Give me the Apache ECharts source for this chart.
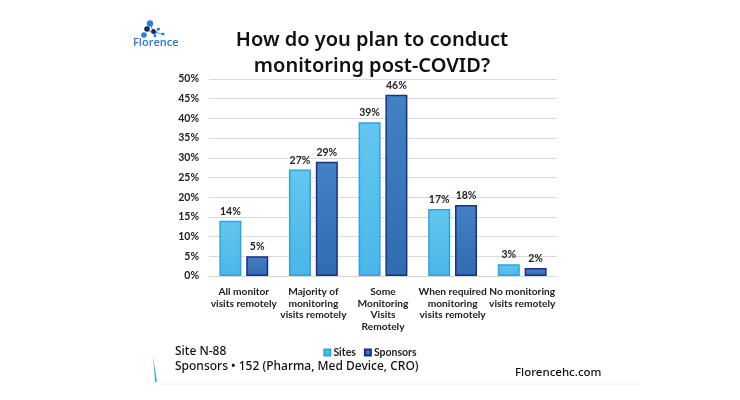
<!DOCTYPE html>
<html><head><meta charset="utf-8">
<script src="https://cdn.jsdelivr.net/npm/echarts@6/dist/echarts.min.js"></script>
<style>html,body{margin:0;padding:0;background:#fff}#c{width:740px;height:400px}</style>
</head><body><div id="c"></div>
<script>
var categories = ["All monitor\nvisits remotely", "Majority of\nmonitoring\nvisits remotely", "Some\nMonitoring\nVisits\nRemotely", "When required\nmonitoring\nvisits remotely", "No monitoring\nvisits remotely"];
var sites = [14, 27, 39, 17, 3];
var sponsors = [5, 29, 46, 18, 2];
var yTicks = [0, 5, 10, 15, 20, 25, 30, 35, 40, 45, 50];

var chart = echarts.init(document.getElementById('c'));
var lbl = {show: true, position: 'top', distance: 4, formatter: function(p){return p.value + '%';}, fontFamily: 'Lato', fontSize: 10.5, fontWeight: 700, color: '#222'};
chart.setOption({
  animation: false,
  title: {text: 'How do you plan to conduct\nmonitoring post-COVID?', left: 367, top: 22, textAlign: 'center',
    textStyle: {fontFamily: 'Noto Sans', fontSize: 20, fontWeight: 600, color: '#111', lineHeight: 26}},
  legend: {data: ['Sites', 'Sponsors'], left: 'center', top: 342, itemWidth: 6, itemHeight: 6, itemGap: 8,
    icon: 'rect', textStyle: {fontFamily: 'Lato', fontSize: 10.5, fontWeight: 700, color: '#222', padding: [0,0,0,-2]}},
  grid: {left: 209, right: 183, top: 79, bottom: 124},
  xAxis: {type: 'category', data: categories,
    axisLine: {lineStyle: {color: '#d6d6d6'}}, axisTick: {show: false},
    axisLabel: {interval: 0, fontFamily: 'Lato', fontSize: 10.2, fontWeight: 700, color: '#222', lineHeight: 11.5, margin: 10}},
  yAxis: {type: 'value', min: 0, max: 50, interval: 5,
    axisLabel: {formatter: function(v){return yTicks.indexOf(v) >= 0 ? v + '%' : '';}, fontFamily: 'Lato', fontSize: 10.5, fontWeight: 700, color: '#222', margin: 10},
    splitLine: {lineStyle: {color: '#d9d9d9'}}, axisLine: {show: false}, axisTick: {show: false}},
  series: [
    {name: 'Sites', type: 'bar', data: sites, barWidth: 22, barGap: '22%', label: lbl,
      itemStyle: {color: new echarts.graphic.LinearGradient(0,0,0,1,[{offset:0,color:'#62c7f0'},{offset:1,color:'#4ab6e8'}]), borderColor: '#2fa3dd', borderWidth: 1.5}},
    {name: 'Sponsors', type: 'bar', data: sponsors, barWidth: 22, label: lbl,
      itemStyle: {color: new echarts.graphic.LinearGradient(0,0,0,1,[{offset:0,color:'#4282c4'},{offset:1,color:'#2f6cb0'}]), borderColor: '#1c2f88', borderWidth: 1.5}}
  ],
  graphic: [
    {type: 'line', shape: {x1: 150, y1: 24, x2: 155, y2: 35}, style: {stroke: '#2a7de0', lineWidth: 0.8}},
    {type: 'line', shape: {x1: 153, y1: 32, x2: 163, y2: 34}, style: {stroke: '#2a7de0', lineWidth: 0.8}},
    {type: 'line', shape: {x1: 147, y1: 29, x2: 155, y2: 35}, style: {stroke: '#2a7de0', lineWidth: 0.8}},
    {type: 'line', shape: {x1: 158, y1: 29, x2: 155, y2: 35}, style: {stroke: '#2a7de0', lineWidth: 0.8}},
    {type: 'circle', shape: {cx: 150, cy: 23.5, r: 3.2}, style: {fill: '#2a7de0'}},
    {type: 'circle', shape: {cx: 147, cy: 29, r: 2.8}, style: {fill: '#1a2a5a'}},
    {type: 'circle', shape: {cx: 144, cy: 35, r: 2.8}, style: {fill: '#2a7de0'}},
    {type: 'circle', shape: {cx: 153.5, cy: 31.5, r: 2.4}, style: {fill: '#1a2a5a'}},
    {type: 'circle', shape: {cx: 158.5, cy: 29, r: 1.6}, style: {fill: '#2a7de0'}},
    {type: 'circle', shape: {cx: 163, cy: 34, r: 1.6}, style: {fill: '#2a7de0'}},
    {type: 'circle', shape: {cx: 155, cy: 36, r: 1.4}, style: {fill: '#2a7de0'}},
    {type: 'text', left: 133, top: 37, style: {text: 'Florence', fontFamily: 'Open Sans', fontSize: 11, fontWeight: 600, fill: '#2a7bd0'}},
    {type: 'polygon', shape: {points: [[153,356],[155,382],[157,382]]}, style: {fill: '#2fb0e8'}},
    {type: 'line', shape: {x1: 160, y1: 384, x2: 640, y2: 384}, style: {stroke: '#f0f0f0', lineWidth: 1}},
    {type: 'text', left: 175, top: 344, style: {text: 'Site N-88\nSponsors \u2022 152 (Pharma, Med Device, CRO)', fontFamily: 'Noto Sans', fontSize: 12, fontWeight: 500, fill: '#111', lineHeight: 15}},
    {type: 'text', left: 515, top: 367, style: {text: 'Florencehc.com', fontFamily: 'Noto Sans', fontSize: 11.5, fontWeight: 500, fill: '#111'}}
  ]
});
</script></body></html>
